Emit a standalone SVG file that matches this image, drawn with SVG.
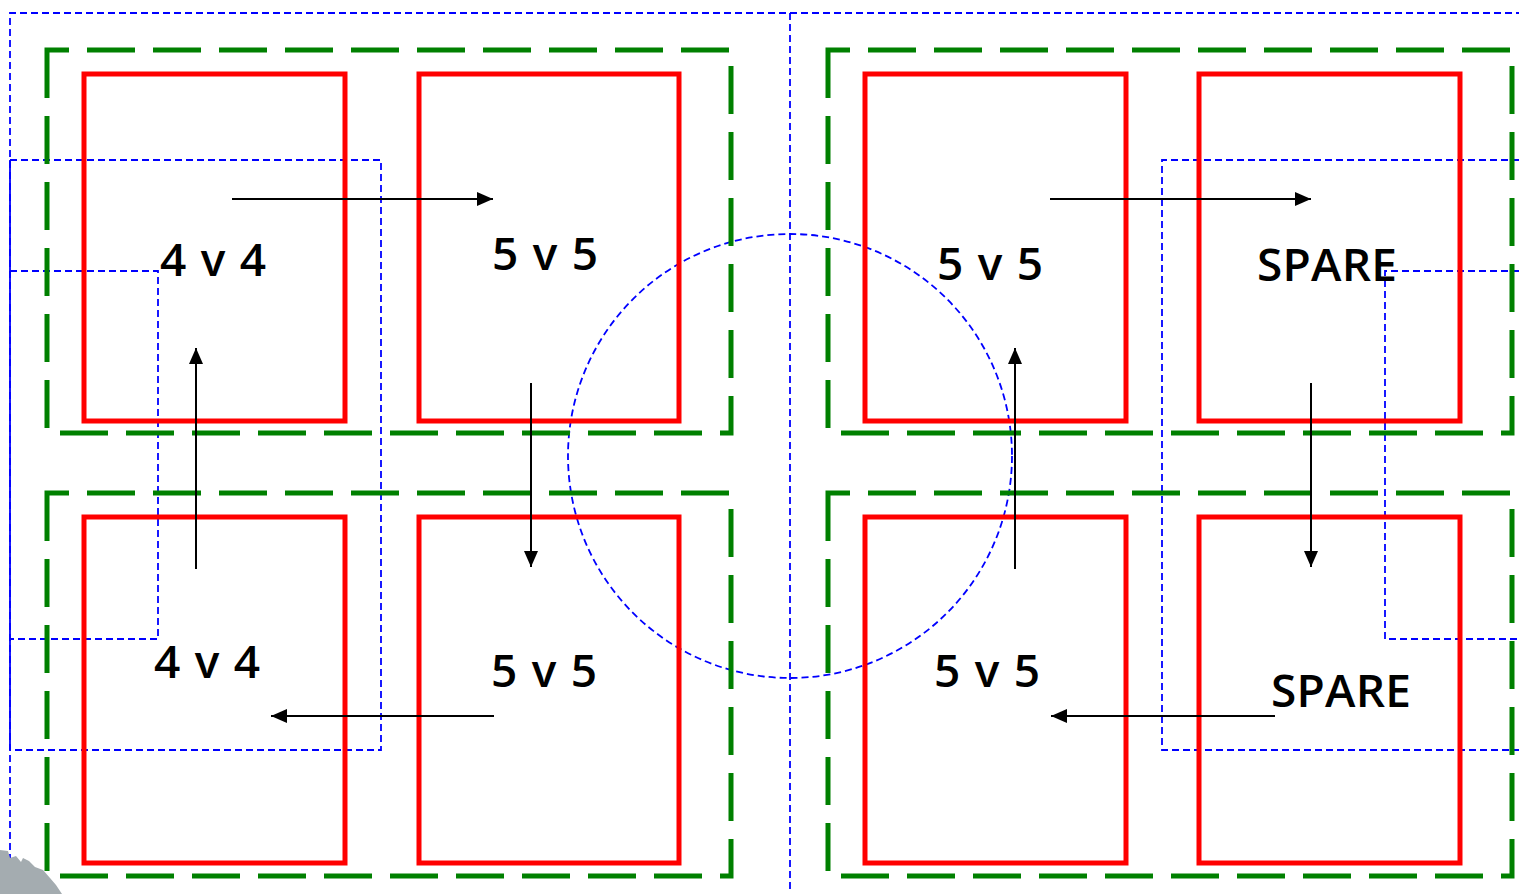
<svg xmlns="http://www.w3.org/2000/svg" width="1519" height="894" viewBox="0 0 1519 894">
<defs>
<style>
.field{fill:none;stroke:#0000ff;stroke-width:1.8;stroke-dasharray:7 4}
.zone{fill:none;stroke:#008000;stroke-width:5;stroke-dasharray:48 18}
.pitch{fill:none;stroke:#ff0000;stroke-width:5}
.lbl{font-family:"Open Sans","Liberation Sans",sans-serif;font-weight:600;font-size:46px;fill:#000;text-anchor:middle}
.arr{stroke:#000;stroke-width:2;fill:none;marker-end:url(#ah)}
</style>
<marker id="ah" markerUnits="userSpaceOnUse" markerWidth="16" markerHeight="16" viewBox="0 0 16 16" refX="16" refY="8" orient="auto">
<path d="M0,1 L16,8 L0,15 Z" fill="#000"/>
</marker>
</defs>
<rect width="1519" height="894" fill="#fff"/>
<g id="field">
<path class="field" d="M10,894 V13 H1519"/>
<path class="field" d="M790,13 V890"/>
<circle class="field" cx="790" cy="456" r="222"/>
<path class="field" d="M10,160 H381 V750 H10"/>
<path class="field" d="M10,271 H158 V639 H10"/>
<path d="M10,160 V750" stroke="#0000ff" stroke-width="1.8"/>
<path class="field" d="M1519,160 H1162 V750 H1519"/>
<path class="field" d="M1519,271 H1385 V639 H1519"/>
</g>
<g id="zones">
<path id="zone-tl" class="zone" d="M47,50 V433 H731 V50 Z"/>
<path id="zone-bl" class="zone" d="M47,493 V876 H731 V493 Z"/>
<path id="zone-tr" class="zone" d="M828,50 V433 H1512 V50 Z"/>
<path id="zone-br" class="zone" d="M828,493 V876 H1512 V493 Z"/>
</g>
<g id="node-tl1"><rect class="pitch" x="84" y="74" width="261" height="347"/><text class="lbl" x="213" y="276" textLength="106" lengthAdjust="spacing">4 v 4</text></g>
<g id="node-tl2"><rect class="pitch" x="419" y="74" width="260" height="347"/><text class="lbl" x="545" y="270" textLength="106" lengthAdjust="spacing">5 v 5</text></g>
<g id="node-bl1"><rect class="pitch" x="84" y="517" width="261" height="346"/><text class="lbl" x="207" y="678" textLength="106" lengthAdjust="spacing">4 v 4</text></g>
<g id="node-bl2"><rect class="pitch" x="419" y="517" width="260" height="346"/><text class="lbl" x="544" y="687" textLength="106" lengthAdjust="spacing">5 v 5</text></g>
<g id="node-tr1"><rect class="pitch" x="865" y="74" width="261" height="347"/><text class="lbl" x="990" y="280" textLength="106" lengthAdjust="spacing">5 v 5</text></g>
<g id="node-tr2"><rect class="pitch" x="1199" y="74" width="261" height="347"/><text class="lbl" x="1327" y="281" textLength="140" lengthAdjust="spacing">SPARE</text></g>
<g id="node-br1"><rect class="pitch" x="865" y="517" width="261" height="346"/><text class="lbl" x="987" y="687" textLength="106" lengthAdjust="spacing">5 v 5</text></g>
<g id="node-br2"><rect class="pitch" x="1199" y="517" width="261" height="346"/><text class="lbl" x="1341" y="707" textLength="140" lengthAdjust="spacing">SPARE</text></g>
<g id="connectors">
<line class="arr" x1="232" y1="199" x2="493" y2="199"/>
<line class="arr" x1="531" y1="383" x2="531" y2="567"/>
<line class="arr" x1="494" y1="716" x2="271" y2="716"/>
<line class="arr" x1="196" y1="569" x2="196" y2="348"/>
<line class="arr" x1="1050" y1="199" x2="1311" y2="199"/>
<line class="arr" x1="1311" y1="383" x2="1311" y2="567"/>
<line class="arr" x1="1275" y1="716" x2="1051" y2="716"/>
<line class="arr" x1="1015" y1="569" x2="1015" y2="348"/>
</g>
<polygon points="0,850 8,851 10,858 16,856 21,862 23,858 29,861 35,867 43,870 50,878 56,885 62,894 0,894" fill="#a4acb0"/>
</svg>
